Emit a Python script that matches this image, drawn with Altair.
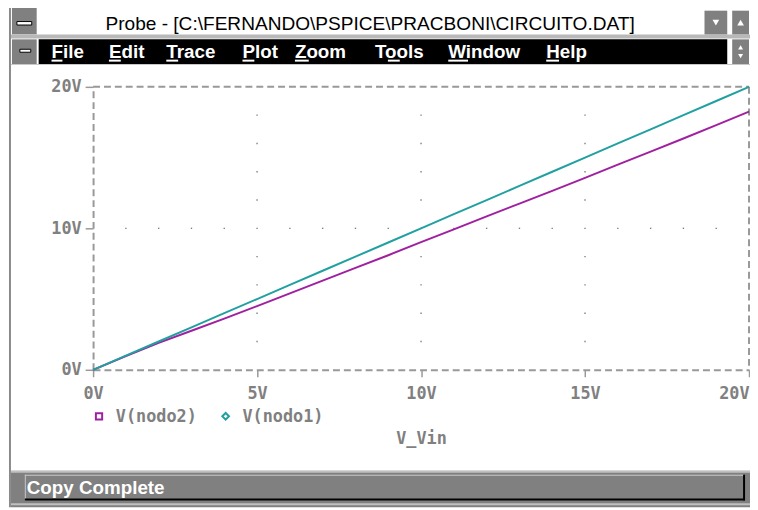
import altair as alt
import pandas as pd

# ---------------- data ----------------
V_VIN = [0, 1, 2, 3, 4, 5, 6, 7, 8, 9, 10, 11, 12, 13, 14, 15, 16, 17, 18, 19, 20]
V_NODO1 = [0, 1, 2, 3, 4, 5, 6, 7, 8, 9, 10, 11, 12, 13, 14, 15, 16, 17, 18, 19, 20]
V_NODO2 = [0, 0.97, 1.9, 2.76, 3.62, 4.5, 5.4, 6.3, 7.2, 8.1, 9.02,
           9.93, 10.85, 11.75, 12.65, 13.57, 14.5, 15.42, 16.35, 17.3, 18.25]
SERIES = ["V(nodo2)", "V(nodo1)"]
COLORS = ["#a020a0", "#20a0a0"]
SHAPES = ["square", "diamond"]
X_TICKS = [0, 5, 10, 15, 20]
Y_TICKS = [0, 10, 20]
X_DOT_COLS = [5, 10, 15]
Y_DOT_ROWS = [2, 4, 6, 8, 12, 14, 16, 18]
X_DOT_ROW = [1, 2, 3, 4, 5, 6, 7, 8, 9, 10, 11, 12, 13, 14, 15, 16, 17, 18, 19]
Y_DOT_MID = [10]
X_TITLE = "V_Vin"
WINDOW_TITLE = "Probe - [C:\\FERNANDO\\PSPICE\\PRACBONI\\CIRCUITO.DAT]"
MENU = ["File", "Edit", "Trace", "Plot", "Zoom", "Tools", "Window", "Help"]
STATUS = "Copy Complete"

# ---------------- tables ----------------
rows = []
for name, vals in zip(SERIES, [V_NODO2, V_NODO1]):
    for xv, yv in zip(V_VIN, vals):
        rows.append({"vin": xv, "v": yv, "series": name})
lines_df = pd.DataFrame(rows)

dots = [{"vin": a, "v": b} for a in X_DOT_COLS for b in Y_DOT_ROWS]
dots += [{"vin": a, "v": b} for a in X_DOT_ROW for b in Y_DOT_MID]
dots_df = pd.DataFrame(dots)

one = pd.DataFrame({"k": [0]})

# ---------------- layout ----------------
W, H = 663, 286
OX, OY = 94, 85          # screen position of plot origin
GRAY = "#808080"
AXGRAY = "#999999"
MONO = "DejaVu Sans Mono"
SANS = "Liberation Sans"


def rect(x1, y1, x2, y2, fill, stroke=None, sw=1):
    kw = {"fill": fill}
    if stroke is not None:
        kw["stroke"] = stroke
        kw["strokeWidth"] = sw
    return alt.Chart(one).mark_rect(**kw).encode(
        x=alt.value(x1 - OX), x2=alt.value(x2 - OX),
        y=alt.value(y1 - OY), y2=alt.value(y2 - OY))


def txt(s, x, y, size, color, weight="normal", font=SANS, align="left"):
    return alt.Chart(one).mark_text(
        text=s, font=font, fontSize=size, fontWeight=weight, color=color,
        align=align, baseline="alphabetic").encode(
        x=alt.value(x - OX), y=alt.value(y - OY))


def sym(shape, x, y, size, fill=None, stroke=None, sw=1):
    kw = {"shape": shape, "size": size, "opacity": 1}
    if fill is not None:
        kw["filled"] = True
        kw["fill"] = fill
        kw["color"] = fill
    else:
        kw["filled"] = False
        kw["stroke"] = stroke
        kw["color"] = stroke
        kw["strokeWidth"] = sw
    return alt.Chart(one).mark_point(**kw).encode(
        x=alt.value(x - OX), y=alt.value(y - OY))


xs = alt.Scale(domain=[0, 20], nice=False, zero=False)
ys = alt.Scale(domain=[0, 20], nice=False, zero=False)

x_axis = alt.Axis(
    values=X_TICKS, labelExpr="datum.value + 'V'", grid=False,
    domainDash=[7, 4], domainColor=AXGRAY, domainWidth=2,
    tickColor=AXGRAY, tickSize=7, tickWidth=1.5,
    labelPadding=9, labelFont=MONO, labelFontSize=17, labelFontWeight="bold",
    labelColor=GRAY,
    labelAlign={"condition": {"test": "datum.value == 20", "value": "right"}, "value": "center"},
    title=X_TITLE, titleFont=MONO, titleFontSize=17, titleFontWeight="bold",
    titleColor=GRAY, titleBaseline="alphabetic", titleY=74)

y_axis = alt.Axis(
    values=Y_TICKS, labelExpr="datum.value + 'V'", grid=False,
    domainDash=[7, 4], domainColor=AXGRAY, domainWidth=2,
    tickColor=AXGRAY, tickSize=8, tickWidth=1.5,
    labelPadding=4, labelFont=MONO, labelFontSize=17, labelFontWeight="bold",
    labelColor=GRAY, title=None)

cscale = alt.Scale(domain=SERIES, range=COLORS)

dots_layer = alt.Chart(dots_df).mark_square(size=2, color=GRAY, opacity=1).encode(
    x=alt.X("vin:Q", scale=xs, axis=x_axis),
    y=alt.Y("v:Q", scale=ys, axis=y_axis))

top_border = alt.Chart(one).mark_rule(color=AXGRAY, strokeWidth=2, strokeDash=[7, 4]).encode(
    x=alt.value(0), x2=alt.value(W), y=alt.value(0))
right_border = alt.Chart(one).mark_rule(color=AXGRAY, strokeWidth=2, strokeDash=[7, 4]).encode(
    x=alt.value(W), y=alt.value(0), y2=alt.value(H))

lines = alt.Chart(lines_df).mark_line(strokeWidth=2).encode(
    x=alt.X("vin:Q", scale=xs),
    y=alt.Y("v:Q", scale=ys),
    color=alt.Color("series:N", scale=cscale, legend=None),
    detail="series:N")

# ---------------- legend (Probe style, below the axis) ----------------
LEG_X = [100, 228]
legend_layers = []
for name, col, shp, lx in zip(SERIES, COLORS, SHAPES, LEG_X):
    legend_layers.append(sym(shp, lx, 418, 40 if shp == "square" else 45, stroke=col, sw=2))
    legend_layers.append(txt(name, lx + 17, 424, 17, GRAY, "bold", MONO))

# ---------------- window chrome ----------------
chrome = [
    rect(9, 0, 11, 510, "#8a8a8a"),
    # title bar
    rect(12, 4, 37, 32, GRAY),
    rect(17, 19, 32, 22.5, "white", "black", 1),
    rect(11, 32, 758, 36, "#b8b8b8"),
    rect(712, 8, 735, 32, GRAY),
    rect(740, 8, 757, 32, GRAY),
    # menu bar
    rect(39, 37, 735, 62, "black"),
    rect(12, 37, 37, 62, GRAY),
    rect(20, 47, 31, 50, "white", "black", 1),
    rect(740, 37, 757, 62, GRAY),
    rect(11, 62, 758, 63, "#c8c8c8"),
    # status bar
    rect(11, 473, 758, 510, GRAY),
    rect(11, 473, 758, 475, "#c0c0c0"),
    rect(25, 477, 752, 503, GRAY),
    rect(25, 477, 752, 478, "#c8c8c8"),
    rect(25, 477, 26, 503, "#c8c8c8"),
    rect(25, 501, 753, 503, "black"),
    rect(751, 477, 753, 503, "black"),
    rect(11, 506, 758, 508, "#c0c0c0"),
]

MENU_X = [52, 110, 168, 245, 298, 379, 453, 552]
UNDER = [(52, 63), (110, 122), (168, 180), (245, 257), (298, 312), (392, 404), (453, 473), (552, 565)]

texts = [
    txt(WINDOW_TITLE, 374, 28, 19.3, "black", "normal", SANS, "center"),
    txt(STATUS, 27, 497, 19, "white", "bold"),
    sym("triangle-down", 723.5, 20, 45, fill="white"),
    sym("triangle-up", 748.5, 20, 45, fill="white"),
    sym("triangle-up", 748.5, 45, 25, fill="white"),
    sym("triangle-down", 748.5, 54, 25, fill="white"),
]
for name, mx in zip(MENU, MENU_X):
    texts.append(txt(name, mx, 56, 19, "white", "bold"))
for (u1, u2) in UNDER:
    texts.append(rect(u1, 57.5, u2, 59.5, "white"))

chart = alt.layer(
    *chrome, dots_layer, top_border, right_border, lines, *legend_layers, *texts
).properties(
    width=W, height=H,
    autosize=alt.AutoSizeParams(type="none"),
    padding={"left": 86, "top": 77, "right": 1, "bottom": 139},
).configure(background="white").configure_view(stroke="transparent")

chart.save("out.html", embed_options={"renderer": "svg", "actions": False})
